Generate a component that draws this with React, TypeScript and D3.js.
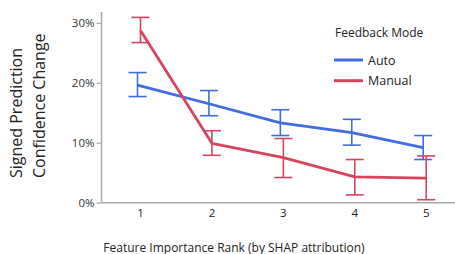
import React, { useRef, useEffect } from 'react';
import * as d3 from 'd3';

// Feature importance ranks on the x axis
const ranks = [1, 2, 3, 4, 5];

// Signed prediction confidence change (fraction), mean and error bar bounds
const autoMean = [0.196, 0.165, 0.133, 0.117, 0.092];
const autoLow = [0.177, 0.145, 0.112, 0.096, 0.072];
const autoHigh = [0.217, 0.187, 0.155, 0.139, 0.112];

const manualMean = [0.287, 0.099, 0.075, 0.043, 0.041];
const manualLow = [0.267, 0.079, 0.042, 0.013, 0.005];
const manualHigh = [0.309, 0.120, 0.107, 0.072, 0.078];

const yTicks = [0, 0.1, 0.2, 0.3];
const seriesNames = ['Auto', 'Manual'];
const seriesColors = ['#3f6ce0', '#d6455e'];

const App = () => {
  const ref = useRef(null);

  useEffect(() => {
    const svg = d3.select(ref.current);
    svg.selectAll('*').remove();

    const width = 455;
    const font = "'Open Sans', sans-serif";

    const x = d3.scaleLinear().domain([1, 5]).range([140, 425.7]);
    const y = d3.scaleLinear().domain([0, 0.318]).range([202.7, 12]);

    const series = [
      { name: seriesNames[0], color: seriesColors[0], mean: autoMean, low: autoLow, high: autoHigh, dx: -2.5 },
      { name: seriesNames[1], color: seriesColors[1], mean: manualMean, low: manualLow, high: manualHigh, dx: 0.5 },
    ];

    // axes
    const axisColor = '#aaaaaa';
    svg.append('line')
      .attr('x1', 101.5).attr('x2', 101.5)
      .attr('y1', y(0.318)).attr('y2', y(0))
      .attr('stroke', axisColor).attr('stroke-width', 1.5);
    svg.append('line')
      .attr('x1', 101.5).attr('x2', width)
      .attr('y1', y(0)).attr('y2', y(0))
      .attr('stroke', axisColor).attr('stroke-width', 1.5);

    const yAxis = svg.append('g')
      .attr('transform', 'translate(101.5,0)')
      .call(d3.axisLeft(y).tickValues(yTicks).tickSize(5).tickPadding(2).tickFormat(d3.format('.0%')));
    yAxis.select('.domain').remove();
    yAxis.selectAll('line').attr('stroke', axisColor).attr('stroke-width', 1.2);
    yAxis.selectAll('text')
      .attr('fill', '#333')
      .style('font-family', font)
      .style('font-size', '11.5px');

    const xAxis = svg.append('g')
      .attr('transform', `translate(0,${y(0)})`)
      .call(d3.axisBottom(x).tickValues(ranks).tickSize(0).tickPadding(6).tickFormat(d3.format('d')));
    xAxis.select('.domain').remove();
    xAxis.selectAll('text')
      .attr('fill', '#222')
      .style('font-family', font)
      .style('font-size', '11.5px');

    // error bars
    series.forEach(s => {
      const g = svg.append('g').attr('stroke', s.color).attr('stroke-width', 1.6);
      ranks.forEach((r, i) => {
        const cx = x(r) + s.dx;
        g.append('line').attr('x1', cx).attr('x2', cx).attr('y1', y(s.low[i])).attr('y2', y(s.high[i]));
        g.append('line').attr('x1', cx - 9).attr('x2', cx + 9).attr('y1', y(s.low[i])).attr('y2', y(s.low[i]));
        g.append('line').attr('x1', cx - 9).attr('x2', cx + 9).attr('y1', y(s.high[i])).attr('y2', y(s.high[i]));
      });
    });

    // mean lines
    series.forEach(s => {
      const line = d3.line()
        .x((d, i) => x(ranks[i]) + s.dx)
        .y(d => y(d));
      svg.append('path')
        .datum(s.mean)
        .attr('d', line)
        .attr('fill', 'none')
        .attr('stroke', s.color)
        .attr('stroke-width', 2.8)
        .attr('stroke-linejoin', 'round');
    });

    // legend
    svg.append('text')
      .attr('x', 335).attr('y', 37)
      .text('Feedback Mode')
      .attr('fill', '#222')
      .style('font-family', font)
      .style('font-size', '12px');
    series.forEach((s, i) => {
      const ly = 60 + i * 20.7;
      svg.append('line')
        .attr('x1', 334).attr('x2', 363)
        .attr('y1', ly).attr('y2', ly)
        .attr('stroke', s.color).attr('stroke-width', 3);
      svg.append('text')
        .attr('x', 368).attr('y', ly + 4.5)
        .text(s.name)
        .attr('fill', '#222')
        .style('font-family', font)
        .style('font-size', '12.5px');
    });

    // axis titles
    svg.append('text')
      .attr('x', 234).attr('y', 251.5)
      .attr('text-anchor', 'middle')
      .text('Feature Importance Rank (by SHAP attribution)')
      .attr('fill', '#222')
      .style('font-family', font)
      .style('font-size', '12px');

    const yTitle = svg.append('text')
      .attr('transform', 'translate(0,178) rotate(-90)')
      .attr('fill', '#222')
      .style('font-family', font)
      .style('font-size', '16px');
    yTitle.append('tspan').attr('x', 0).attr('y', 22).text('Signed Prediction');
    yTitle.append('tspan').attr('x', 0).attr('y', 44.5).text('Confidence Change');
  }, []);

  return (
    <svg
      ref={ref}
      width={455}
      height={254}
      style={{ position: 'absolute', left: 0, top: 0, background: '#fff' }}
    />
  );
};

export default App;
